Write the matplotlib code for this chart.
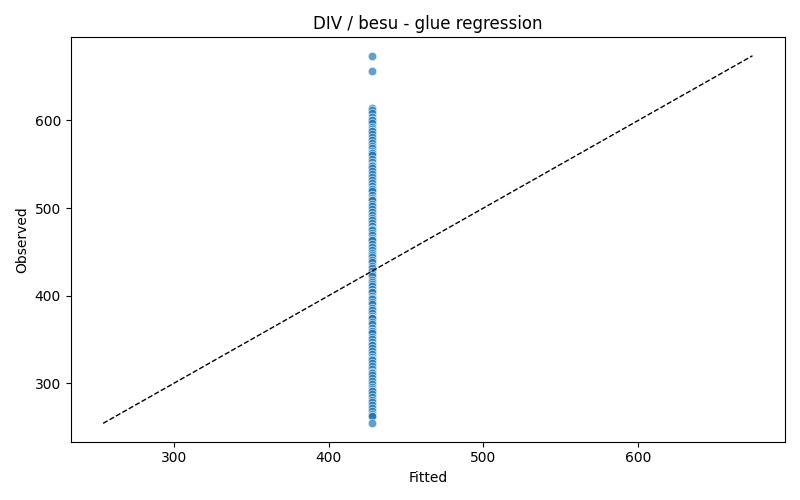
import matplotlib
matplotlib.use("Agg")
import matplotlib.pyplot as plt

fitted_value = 428.2
observed = [
    674, 656, 614, 612, 609, 604, 601, 600, 597, 593, 590, 588, 588, 585, 581,
    578, 574, 571, 568, 565, 563, 563, 560, 556, 553, 549, 548, 546, 542, 539,
    535, 532, 529, 525, 522, 522, 519, 515, 512, 509, 509, 505, 502, 499, 496,
    492, 489, 486, 483, 480, 476, 475, 472, 469, 466, 463, 463, 459, 456, 452,
    449, 446, 444, 441, 438, 434, 431, 428, 425, 422, 418, 415, 413, 411, 407,
    404, 404, 400, 397, 396, 393, 390, 386, 383, 380, 377, 374, 374, 370, 367,
    363, 360, 360, 357, 353, 350, 347, 344, 344, 340, 337, 333, 330, 327, 326,
    323, 320, 316, 313, 312, 309, 306, 302, 299, 296, 293, 291, 291, 288, 284,
    281, 278, 275, 271, 268, 265, 262, 262, 254,
]
fitted = [fitted_value] * len(observed)

fig, ax = plt.subplots(figsize=(8, 5), dpi=100)
ax.scatter(fitted, observed, s=38, color="#1f77b4", alpha=0.7,
           edgecolor="white", linewidth=0.6, zorder=2)
lo = min(min(fitted), min(observed))
hi = max(max(fitted), max(observed))
ax.plot([lo, hi], [lo, hi], "k--", linewidth=1, zorder=3)
ax.set_title("DIV / besu - glue regression")
ax.set_xlabel("Fitted")
ax.set_ylabel("Observed")
fig.tight_layout()
fig.savefig("out.png")
